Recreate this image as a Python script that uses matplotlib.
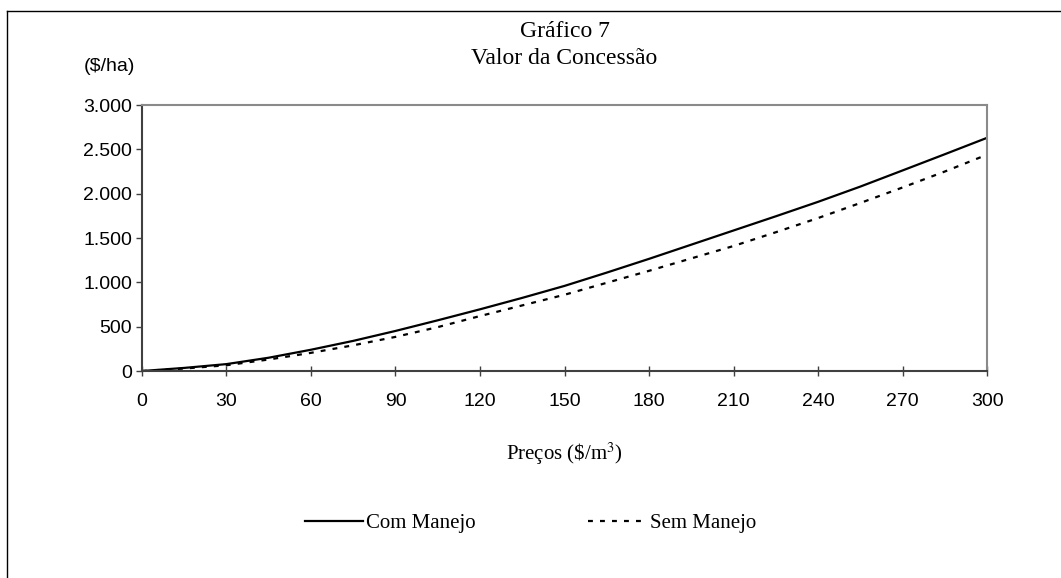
import matplotlib
matplotlib.use("Agg")
import matplotlib.pyplot as plt
from matplotlib.lines import Line2D
from matplotlib.ticker import FuncFormatter

# values (US$/ha vs price US$/m3)
precos = [0, 15, 30, 45, 60, 75, 90, 105, 120, 135, 150,
          165, 180, 195, 210, 225, 240, 255, 270, 285, 300]
com_manejo = [0, 35, 78, 150, 240, 340, 452, 572, 696, 825, 960,
              1110, 1265, 1425, 1585, 1745, 1908, 2080, 2262, 2445, 2630]
sem_manejo = [0, 28, 65, 130, 205, 290, 385, 495, 620, 740, 860,
              995, 1130, 1270, 1410, 1565, 1725, 1895, 2070, 2250, 2440]

x_ticks = list(range(0, 301, 30))
y_ticks = [0, 500, 1000, 1500, 2000, 2500, 3000]

SERIF = "Liberation Serif"
SANS = "Liberation Sans"


def fmt_milhar(v, pos):
    return f"{int(v):,}".replace(",", ".")


fig = plt.figure(figsize=(10.61, 5.78), dpi=100)
ax = fig.add_axes([0.1338, 0.3581, 0.7965, 0.4602])

ax.plot(precos, com_manejo, color="black", linewidth=1.6, label="Com Manejo")
ax.plot(precos, sem_manejo, color="black", linewidth=1.6, dashes=(2.2, 3.2),
        label="Sem Manejo")

ax.set_xlim(0, 300)
ax.set_ylim(0, 3000)
ax.set_xticks(x_ticks)
ax.set_yticks(y_ticks)
ax.yaxis.set_major_formatter(FuncFormatter(fmt_milhar))

for side in ("top", "right"):
    ax.spines[side].set_color("#8a8a8a")
    ax.spines[side].set_linewidth(1.5)
for side in ("left", "bottom"):
    ax.spines[side].set_color("#404040")
    ax.spines[side].set_linewidth(1.5)

ax.tick_params(axis="both", direction="inout", length=7, width=1, color="#404040",
               labelsize=14)
ax.tick_params(axis="x", pad=12)
ax.tick_params(axis="y", direction="out", length=4, pad=3)
for lbl in ax.get_xticklabels() + ax.get_yticklabels():
    lbl.set_fontfamily(SANS)

ax.set_xlabel("Preços (\\$/m$^3$)", fontfamily=SERIF, fontsize=15, labelpad=22)
ax.xaxis.label.set_math_fontfamily("stix")

fig.text(0.532, 0.946, "Gráfico 7", ha="center", va="center",
         fontfamily=SERIF, fontsize=17)
fig.text(0.532, 0.899, "Valor da Concessão", ha="center", va="center",
         fontfamily=SERIF, fontsize=17)
fig.text(0.103, 0.885, "($/ha)", ha="center", va="center",
         fontfamily=SANS, fontsize=14)

leg = fig.legend(loc="center", bbox_to_anchor=(0.5, 0.095), ncol=2, frameon=False,
                 handlelength=2.8, handletextpad=0.15, columnspacing=5.4,
                 prop={"family": SERIF, "size": 15})

# outer chart border (left and top only visible)
fig.add_artist(Line2D([0.0066, 0.0066], [0.0, 0.981], color="black", linewidth=1,
                      transform=fig.transFigure))
fig.add_artist(Line2D([0.0066, 1.0], [0.981, 0.981], color="black", linewidth=1,
                      transform=fig.transFigure))

fig.savefig("out.png", dpi=100)
